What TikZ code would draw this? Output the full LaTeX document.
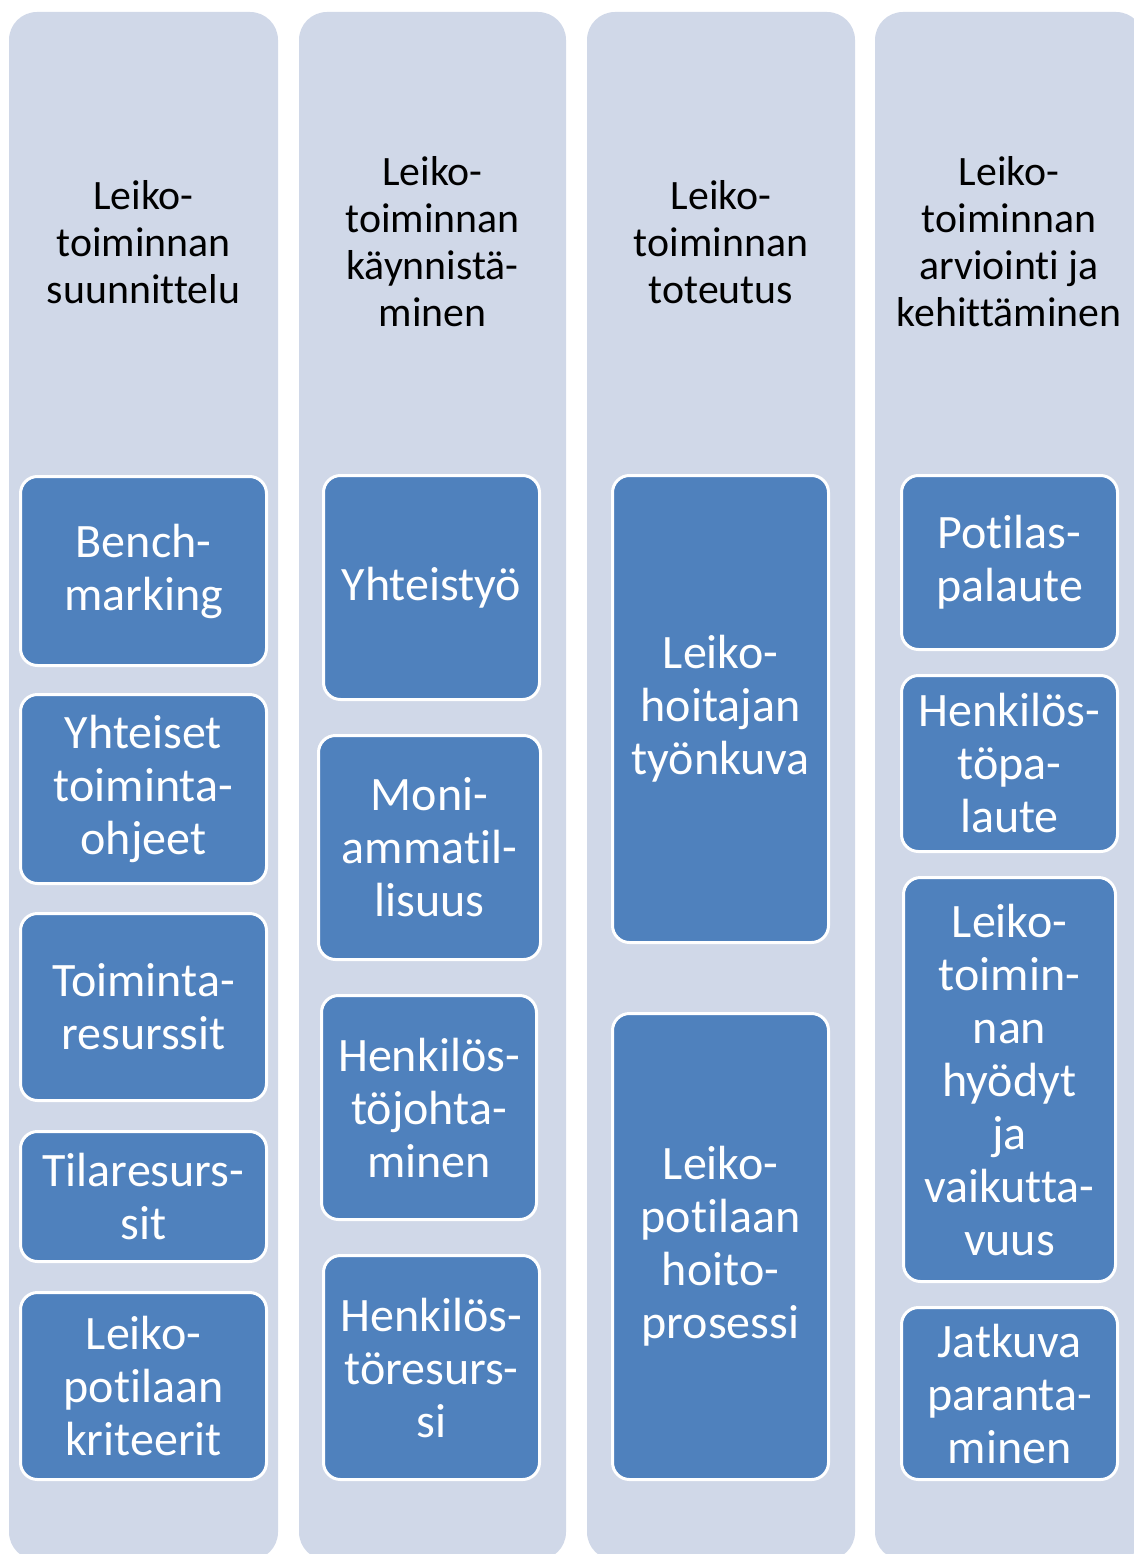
\documentclass[tikz,border=0pt]{standalone}
\usepackage{fontspec}
\setmainfont{Carlito}[Ligatures=NoCommon]
\definecolor{colbg}{HTML}{D0D8E8}
\definecolor{boxblue}{HTML}{4F81BD}
\tikzset{
  colshape/.style={fill=colbg, rounded corners=28pt},
  headtext/.style={align=center, inner sep=0pt, text=black, font=\fontsize{41.8}{47}\selectfont},
  itembox/.style={rectangle, rounded corners=17pt, fill=boxblue, draw=white, line width=3pt,
    text=white, align=center, inner sep=0pt, font=\fontsize{48}{53}\selectfont},
}
\begin{document}
\begin{tikzpicture}[x=1pt, y=-1pt]
\useasboundingbox (0,0) rectangle (1134,1554);
\clip (0,0) rectangle (1134,1554);
\fill[white] (0,0) rectangle (1134,1554);
% columns
\fill[colshape] (9,12) rectangle (278,1560);
\fill[colshape] (299,12) rectangle (566,1560);
\fill[colshape] (587,12) rectangle (855,1560);
\fill[colshape] (875,12) rectangle (1144,1560);
% headers
\node[headtext] (h1) at (143.5,242) {Leiko-\\toiminnan\\suunnittelu};
\node[headtext] (h2) at (432.5,242) {Leiko-\\toiminnan\\käynnistä-\\minen};
\node[headtext] (h3) at (721,242) {Leiko-\\toiminnan\\toteutus};
\node[headtext] (h4) at (1009,242) {Leiko-\\toiminnan\\arviointi ja\\kehittäminen};
% column 1
\node[itembox, minimum width=246pt, minimum height=189pt] (a1) at (143.5,571) {Bench-\\marking};
\node[itembox, minimum width=246pt, minimum height=189pt] (a2) at (143.5,789) {Yhteiset\\toiminta-\\ohjeet};
\node[itembox, minimum width=246pt, minimum height=187pt] (a3) at (143.5,1007) {Toiminta-\\resurssit};
\node[itembox, minimum width=246pt, minimum height=130pt] (a4) at (143.5,1196.5) {Tilaresurs-\\sit};
\node[itembox, minimum width=246pt, minimum height=187pt] (a5) at (143.5,1386) {Leiko-\\potilaan\\kriteerit};
% column 2
\node[itembox, minimum width=216pt, minimum height=224pt] (b1) at (431.5,587.5) {Yhteistyö};
\node[itembox, minimum width=222pt, minimum height=224pt] (b2) at (429.5,847.5) {Moni-\\ammatil-\\lisuus};
\node[itembox, minimum width=215pt, minimum height=224pt] (b3) at (429,1107.5) {Henkilös-\\töjohta-\\minen};
\node[itembox, minimum width=216pt, minimum height=224pt] (b4) at (431.5,1367.5) {Henkilös-\\töresurs-\\si};
% column 3
\node[itembox, minimum width=216pt, minimum height=467pt] (c1) at (720.5,709) {Leiko-\\hoitajan\\työnkuva};
\node[itembox, minimum width=216pt, minimum height=466pt] (c2) at (720.5,1246.5) {Leiko-\\potilaan\\hoito-\\prosessi};
% column 4
\node[itembox, minimum width=216pt, minimum height=174pt] (d1) at (1009.5,562.5) {Potilas-\\palaute};
\node[itembox, minimum width=216pt, minimum height=176pt] (d2) at (1009.5,763.5) {Henkilös-\\töpa-\\laute};
\node[itembox, minimum width=212pt, minimum height=404pt] (d3) at (1009.5,1079.5) {Leiko-\\toimin-\\nan\\hyödyt\\ja\\vaikutta-\\vuus};
\node[itembox, minimum width=216pt, minimum height=172pt] (d4) at (1009.5,1393.5) {Jatkuva\\paranta-\\minen};
\end{tikzpicture}
\end{document}
